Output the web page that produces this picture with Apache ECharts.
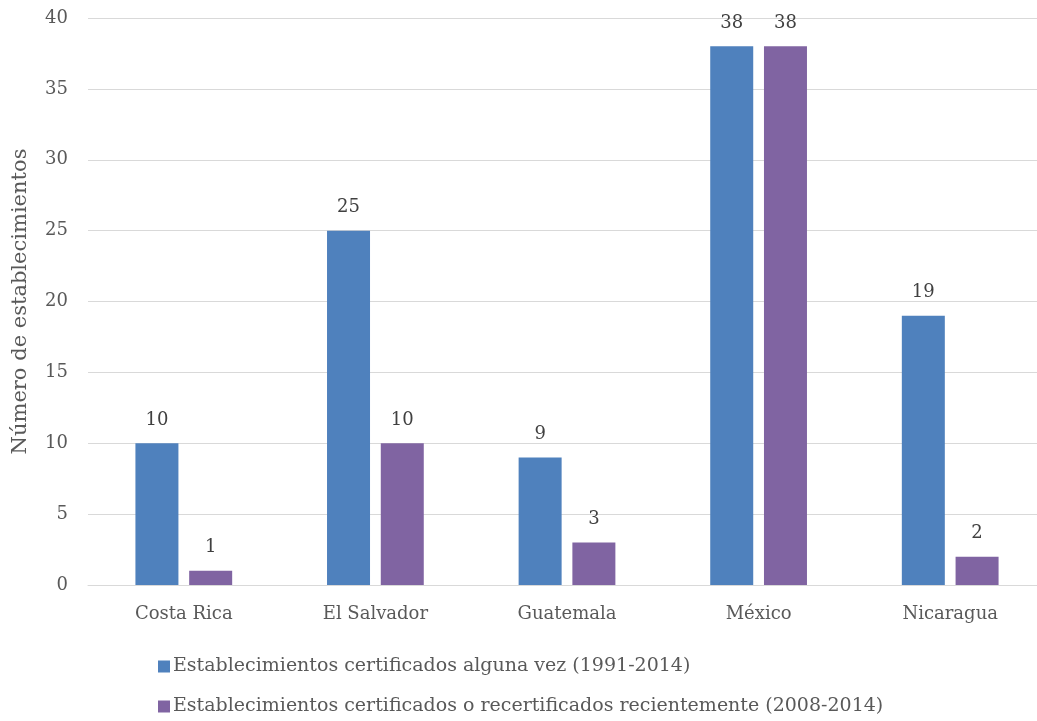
<!DOCTYPE html>
<html>
<head>
<meta charset="utf-8">
<script src="https://cdn.jsdelivr.net/npm/echarts@6/dist/echarts.min.js"></script>
<style>
  html, body { margin: 0; padding: 0; background: #fff; }
  #chart { width: 1037px; height: 721px; }
</style>
</head>
<body>
<div id="chart"></div>
<script>
// datos
const paises = ['Costa Rica', 'El Salvador', 'Guatemala', 'México', 'Nicaragua'];
const algunaVez = [10, 25, 9, 38, 19];
const recientes = [1, 10, 3, 38, 2];
const nombreSerie1 = 'Establecimientos certificados alguna vez (1991-2014)';
const nombreSerie2 = 'Establecimientos certificados o recertificados recientemente (2008-2014)';

const fuente = 'DejaVu Serif';
const gris = '#595959';

const leyenda = (nombre, top) => ({
  left: 153,
  top: top,
  itemWidth: 12,
  itemHeight: 12,
  icon: 'rect',
  textStyle: { fontFamily: fuente, fontSize: 19, color: gris, padding: [0, 0, 0, -2] },
  data: [nombre]
});

const chart = echarts.init(document.getElementById('chart'));
chart.setOption({
  animation: false,
  textStyle: { fontFamily: fuente },
  grid: { left: 88, top: 18, width: 958, height: 567, containLabel: false, outerBoundsMode: 'none' },
  legend: [leyenda(nombreSerie1, 652), leyenda(nombreSerie2, 692)],
  xAxis: {
    type: 'category',
    data: paises,
    axisLine: { lineStyle: { color: '#d9d9d9', width: 1 } },
    axisTick: { show: false },
    axisLabel: { fontFamily: fuente, fontSize: 18, color: gris, margin: 20 }
  },
  yAxis: {
    type: 'value',
    min: 0,
    max: 40,
    interval: 5,
    name: 'Número de establecimientos',
    nameLocation: 'middle',
    nameGap: 57,
    nameTextStyle: { fontFamily: fuente, fontSize: 21, color: gris },
    axisLine: { show: false },
    axisTick: { show: false },
    axisLabel: { fontFamily: fuente, fontSize: 18, color: gris, margin: 20 },
    splitLine: { lineStyle: { color: '#d9d9d9', width: 1 } }
  },
  series: [
    {
      name: nombreSerie1,
      type: 'bar',
      data: algunaVez,
      barWidth: 43,
      barGap: '25%',
      itemStyle: { color: '#4F81BD' },
      label: { show: true, position: 'top', distance: 14, fontFamily: fuente, fontSize: 18, color: '#404040' }
    },
    {
      name: nombreSerie2,
      type: 'bar',
      data: recientes,
      barWidth: 43,
      barGap: '25%',
      itemStyle: { color: '#8064A2' },
      label: { show: true, position: 'top', distance: 14, fontFamily: fuente, fontSize: 18, color: '#404040' }
    }
  ]
});
</script>
</body>
</html>
